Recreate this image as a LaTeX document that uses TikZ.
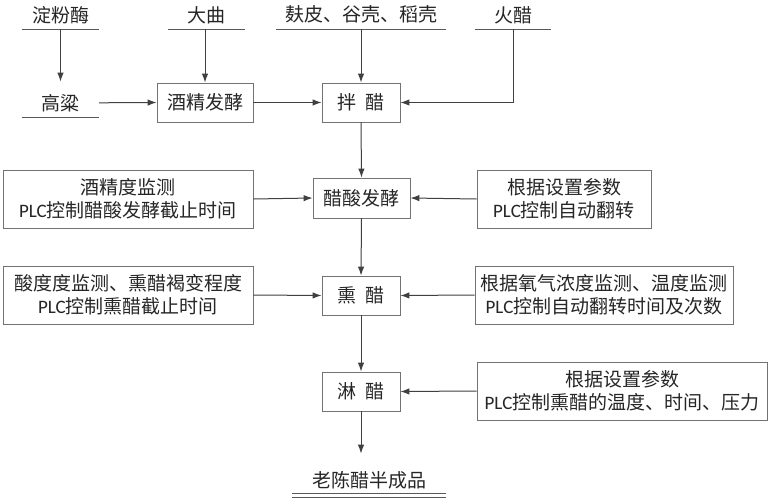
\documentclass[tikz,border=0pt]{standalone}
\usepackage{fontspec}
\setmainfont{Noto Sans CJK SC}
\newfontfamily\lat{Carlito}
\usetikzlibrary{arrows.meta}
\begin{document}
\begin{tikzpicture}[x=1pt,y=-1pt,
  every node/.style={font=\fontsize{19}{23}\selectfont, text=black!85, inner sep=0pt},
  box/.style={draw=black!55, line width=0.9pt, rectangle, align=center},
  lab/.style={minimum height=28, align=center},
  uline/.style={draw=black!65, line width=0.9pt},
  arr/.style={draw=black!75, line width=1pt, -{Latex[length=9pt,width=6.5pt]}}]
\useasboundingbox[fill=white] (0,0) rectangle (770,500);
% top labels
\node[lab, minimum width=77, anchor=south] (t1) at (60.5,29) {淀粉酶};
\node[lab, minimum width=77, anchor=south] (t2) at (206.5,29) {大曲};
\node[lab, minimum width=170, anchor=south] (t3) at (361,29) {麸皮、谷壳、稻壳};
\node[lab, minimum width=76, anchor=south] (t4) at (513,29) {火醋};
\foreach \n in {t1,t2,t3,t4} \draw[uline] (\n.south west) -- (\n.south east);
\node[lab, minimum width=77, anchor=south] (gl) at (60.5,117) {高粱};
\draw[uline] (gl.south west) -- (gl.south east);
% process boxes
\node[box, minimum width=96, minimum height=39] (jj) at (205,102.5) {酒精发酵};
\node[box, minimum width=78, minimum height=39] (bc) at (361,102.5) {拌\hspace{0.45em}醋};
\node[box, minimum width=97, minimum height=40] (cs) at (361.5,198) {醋酸发酵};
\node[box, minimum width=78, minimum height=39] (xc) at (361,295.5) {熏\hspace{0.45em}醋};
\node[box, minimum width=78, minimum height=39] (lc) at (361,391.5) {淋\hspace{0.45em}醋};
% side boxes
\node[box, minimum width=250, minimum height=58] (L1) at (128,199) {酒精度监测\\{\lat PLC}控制醋酸发酵截止时间};
\node[box, minimum width=174, minimum height=58] (R1) at (564,199) {根据设置参数\\{\lat PLC}控制自动翻转};
\node[box, minimum width=250, minimum height=58] (L2) at (128,295) {酸度度监测、熏醋褐变程度\\{\lat PLC}控制熏醋截止时间};
\node[box, minimum width=258, minimum height=58] (R2) at (604,295) {根据氧气浓度监测、温度监测\\{\lat PLC}控制自动翻转时间及次数};
\node[box, minimum width=290, minimum height=58] (R3) at (622,391) {根据设置参数\\{\lat PLC}控制熏醋的温度、时间、压力};
% end product
\node[lab, minimum width=154, minimum height=26, anchor=south] (end) at (369,493) {老陈醋半成品};
\draw[uline] (end.south west) -- (end.south east);
\draw[uline] ([yshift=-4pt]end.south west) -- ([yshift=-4pt]end.south east);
\coordinate (endtop) at ([yshift=13pt]end.north);
\coordinate (gltop) at ([yshift=7pt]gl.north);
% connectors
\draw[arr] (t1.south) -- (gltop);
\draw[arr] (gl.east) -- (jj.west);
\draw[arr] (t2.south -| jj.north) -- (jj.north);
\draw[arr] (jj.east) -- (bc.west);
\draw[arr] (t3.south) -- (bc.north);
\draw[arr] (t4.south) |- (bc.east);
\draw[arr] (bc.south) -- (cs.north);
\draw[arr] (L1.east) -- (cs.west);
\draw[arr] (R1.west) -- (cs.east);
\draw[arr] (cs.south) -- (xc.north);
\draw[arr] (L2.east) -- (xc.west);
\draw[arr] (R2.west) -- (xc.east);
\draw[arr] (xc.south) -- (lc.north);
\draw[arr] (R3.west) -- (lc.east);
\draw[arr] (lc.south) -- (lc.south |- endtop);
\end{tikzpicture}
\end{document}
